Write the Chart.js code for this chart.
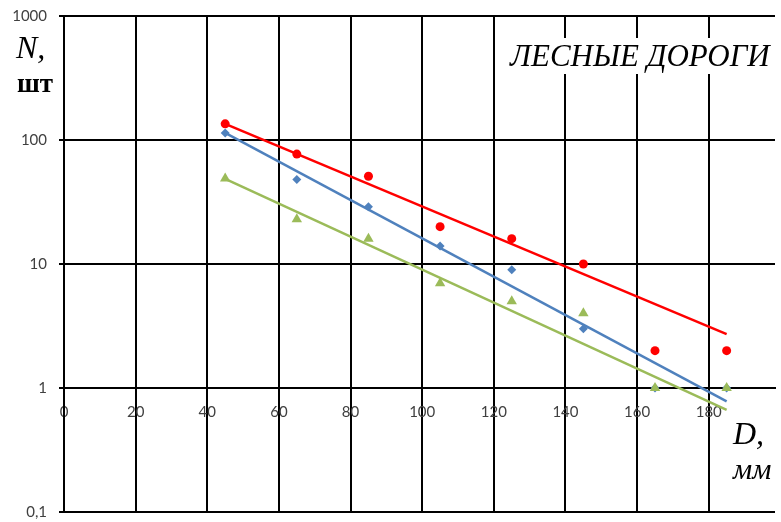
<!DOCTYPE html>
<html>
<head>
<meta charset="utf-8">
<script src="https://cdn.jsdelivr.net/npm/chart.js@4/dist/chart.umd.min.js"></script>
<style>
html,body{margin:0;padding:0;background:#fff;}
#wrap{width:781px;height:522px;position:relative;}
</style>
</head>
<body>
<div id="wrap"><canvas id="c" width="781" height="522"></canvas></div>
<script>
// ---- data ----
const diameters   = [45, 65, 85, 105, 125, 145, 165, 185];
const redCounts   = [135, 77, 51, 20, 16, 10, 2, 2];
const blueCounts  = [114, 48, 29, 14, 9, 3, 1, 1];
const greenCounts = [49, 23, 16, 7, 5, 4, 1, 1];

// trend line end points
const trendX      = [45, 185];
const redTrend    = [135, 2.72];
const blueTrend   = [114, 0.78];
const greenTrend  = [48.5, 0.665];

const xTicks = [0, 20, 40, 60, 80, 100, 120, 140, 160, 180];
const yTicks = [0.1, 1, 10, 100, 1000];

const chartTitle = 'ЛЕСНЫЕ ДОРОГИ';
const yTitle = ['N,', 'шт'];
const xTitle = ['D,', 'мм'];

const RED = '#FF0000', BLUE = '#4F81BD', GREEN = '#9BBB59';

const pts = (xs, ys) => xs.map((x, i) => ({x: x, y: ys[i]}));

const textPlugin = {
  id: 'texts',
  afterDatasetsDraw(chart) {
    const ctx = chart.ctx;
    ctx.save();
    ctx.font = 'italic 31px "Liberation Serif", "DejaVu Serif", serif';
    const w = ctx.measureText(chartTitle).width;
    const tx = 510, ty = 66;
    ctx.fillStyle = '#fff';
    ctx.fillRect(tx - 4, 38, w + 8, 36);
    ctx.fillStyle = '#000';
    ctx.textBaseline = 'alphabetic';
    ctx.fillText(chartTitle, tx, ty);
    ctx.restore();
  },
  afterDraw(chart) {
    const ctx = chart.ctx;
    ctx.save();
    ctx.fillStyle = '#000';
    ctx.textBaseline = 'alphabetic';
    ctx.font = 'italic 32px "Liberation Serif", serif';
    ctx.fillText(yTitle[0], 16, 58);
    ctx.font = 'bold 27px "Liberation Serif", serif';
    ctx.fillText(yTitle[1], 17, 92);
    ctx.font = 'italic 32px "Liberation Serif", serif';
    ctx.fillText(xTitle[0], 733, 444);
    ctx.font = 'italic 30px "Liberation Serif", serif';
    ctx.fillText(xTitle[1], 733, 479);
    ctx.restore();
  }
};

const zeroPad = s => { s.paddingTop = 0; s.paddingBottom = 0; s.paddingLeft = 0; s.paddingRight = 0; };

new Chart(document.getElementById('c'), {
  data: {
    datasets: [
      {type: 'scatter', data: pts(diameters, greenCounts), pointStyle: 'triangle', pointRadius: 6,
       backgroundColor: GREEN, borderColor: GREEN, borderWidth: 0, order: 0},
      {type: 'scatter', data: pts(diameters, redCounts), pointStyle: 'circle', pointRadius: 4.5,
       backgroundColor: RED, borderColor: RED, borderWidth: 0, order: 1},
      {type: 'scatter', data: pts(diameters, blueCounts), pointStyle: 'rectRot', pointRadius: 4.5,
       backgroundColor: BLUE, borderColor: BLUE, borderWidth: 0, order: 2},
      {type: 'line', data: pts(trendX, redTrend), borderColor: RED, borderWidth: 2.5, pointRadius: 0, fill: false, order: 3},
      {type: 'line', data: pts(trendX, blueTrend), borderColor: BLUE, borderWidth: 2.5, pointRadius: 0, fill: false, order: 4},
      {type: 'line', data: pts(trendX, greenTrend), borderColor: GREEN, borderWidth: 2.5, pointRadius: 0, fill: false, order: 5}
    ]
  },
  options: {
    responsive: false,
    animation: false,
    layout: {padding: {left: 0, top: 16, right: 0, bottom: 10}},
    plugins: {legend: {display: false}, tooltip: {enabled: false}, title: {display: false}},
    scales: {
      x: {
        type: 'linear', min: 0, max: 198.5,
        position: {y: 1},
        afterBuildTicks: s => { s.ticks = xTicks.map(v => ({value: v})); },
        afterFit: s => { s.height = 0; zeroPad(s); },
        grid: {color: '#000', lineWidth: 2, tickLength: 0},
        border: {color: '#000', width: 2},
        ticks: {padding: 15, maxRotation: 0, autoSkip: false, color: '#404040',
                font: {family: 'Lato', size: 15}}
      },
      y: {
        type: 'logarithmic', min: 0.1, max: 1000,
        afterBuildTicks: s => { s.ticks = yTicks.map(v => ({value: v})); },
        afterFit: s => { s.width = 64; zeroPad(s); },
        grid: {color: '#000', lineWidth: 2, tickLength: 5},
        border: {color: '#000', width: 2},
        ticks: {padding: 12, color: '#404040', font: {family: 'Lato', size: 15},
                callback: v => String(v).replace('.', ',')}
      }
    }
  },
  plugins: [textPlugin]
});
</script>
</body>
</html>
